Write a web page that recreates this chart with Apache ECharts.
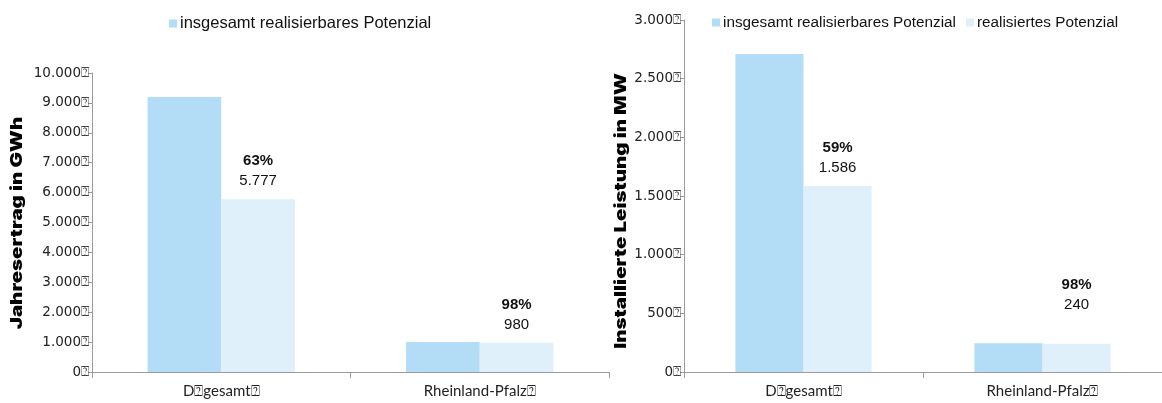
<!DOCTYPE html>
<html>
<head>
<meta charset="utf-8">
<script src="https://cdn.jsdelivr.net/npm/echarts@6/dist/echarts.min.js"></script>
<style>
html,body{margin:0;padding:0;background:#fff;}
#chart{width:1162px;height:403px;}
</style>
</head>
<body>
<div id="chart"></div>
<script>
// Categories (with the placeholder glyphs as they appear in the labels)
const categories = ['D\u2370gesamt\u2370', 'Rheinland-Pfalz\u2370'];
const seriesNames = ['insgesamt realisierbares Potenzial', 'realisiertes Potenzial'];

// Jahresertrag in GWh
const energyTotal = [9200, 1000];
const energyRealized = [5777, 980];
const energyShare = ['63%', '98%'];
const energyTicks = ['0', '1.000', '2.000', '3.000', '4.000', '5.000',
  '6.000', '7.000', '8.000', '9.000', '10.000'];

// Installierte Leistung in MW
const powerTotal = [2710, 245];
const powerRealized = [1586, 240];
const powerShare = ['59%', '98%'];
const powerTicks = ['0', '500', '1.000', '1.500', '2.000', '2.500', '3.000'];

const colTotal = '#b3ddf7';
const colRealized = '#dff0fa';
const axisGray = '#9a9a9a';
const GLYPH = '\u2370';

function fmtDE(v) {
  return String(v).replace(/\B(?=(\d{3})+(?!\d))/g, '.');
}

function xAxisCfg(gridIndex) {
  return {
    type: 'category', gridIndex, data: categories,
    axisLine: {lineStyle: {color: axisGray, width: 1}},
    axisTick: {show: true, length: 6, lineStyle: {color: axisGray}},
    axisLabel: {color: '#222', fontFamily: 'Lato', fontSize: 15, margin: 12}
  };
}
function yAxisCfg(gridIndex, max, interval, ticks) {
  return {
    type: 'value', gridIndex, min: 0, max, interval,
    axisLine: {show: true, lineStyle: {color: axisGray}},
    axisTick: {show: true, length: 4, lineStyle: {color: axisGray}},
    splitLine: {show: false},
    axisLabel: {
      color: '#222', fontFamily: 'DejaVu Sans', fontSize: 13.5, margin: 3,
      formatter: v => ticks[Math.round(v / interval)] + '{g|' + GLYPH + '}',
      rich: {g: {fontFamily: 'DejaVu Sans', fontSize: 14, color: '#444'}}
    }
  };
}
function realizedData(values, shares, dist) {
  return values.map((v, i) => ({
    value: v,
    label: {distance: dist[i], formatter: '{p|' + shares[i] + '}\n{v|' + fmtDE(v) + '}'}
  }));
}
const labelRich = {
  p: {fontFamily: 'Liberation Sans', fontWeight: 'bold', fontSize: 15, color: '#111', lineHeight: 20},
  v: {fontFamily: 'Liberation Sans', fontSize: 15, color: '#111', lineHeight: 20}
};

const chart = echarts.init(document.getElementById('chart'), null, {renderer: 'canvas'});
chart.setOption({
  animation: false,
  grid: [
    {left: 92, top: 73, width: 517, bottom: 31},
    {left: 684, top: 20, width: 484, bottom: 31}
  ],
  legend: [
    {
      data: [seriesNames[0]], left: 164, top: 10, itemWidth: 8, itemHeight: 8, itemGap: 10,
      icon: 'rect', textStyle: {fontFamily: 'Liberation Sans', fontSize: 16.5, color: '#111', padding: [0, 0, 0, -2]}
    },
    {
      data: seriesNames, left: 707, top: 10, itemWidth: 8, itemHeight: 8, itemGap: 10,
      icon: 'rect', textStyle: {fontFamily: 'Liberation Sans', fontSize: 15.3, color: '#111', padding: [0, 0, 0, -2]}
    }
  ],
  xAxis: [xAxisCfg(0), xAxisCfg(1)],
  yAxis: [yAxisCfg(0, 10000, 1000, energyTicks), yAxisCfg(1, 3000, 500, powerTicks)],
  graphic: [
    {
      type: 'text', x: 17, y: 223, rotation: Math.PI / 2, scaleX: 1.28,
      style: {text: 'Jahresertrag in GWh', font: '900 16px Inter', fill: '#000', align: 'center', verticalAlign: 'middle'}
    },
    {
      type: 'text', x: 621, y: 211, rotation: Math.PI / 2, scaleX: 1.28,
      style: {text: 'Installierte Leistung in MW', font: '900 16px Inter', fill: '#000', align: 'center', verticalAlign: 'middle'}
    }
  ],
  series: [
    {
      name: seriesNames[0], type: 'bar', xAxisIndex: 0, yAxisIndex: 0, data: energyTotal,
      itemStyle: {color: colTotal}, barGap: '0%', barCategoryGap: '43%'
    },
    {
      name: seriesNames[1], type: 'bar', xAxisIndex: 0, yAxisIndex: 0,
      data: realizedData(energyRealized, energyShare, [8, 8]),
      itemStyle: {color: colRealized},
      label: {show: true, position: 'top', align: 'center', rich: labelRich}
    },
    {
      name: seriesNames[0], type: 'bar', xAxisIndex: 1, yAxisIndex: 1, data: powerTotal,
      itemStyle: {color: colTotal}, barGap: '0%', barCategoryGap: '43%'
    },
    {
      name: seriesNames[1], type: 'bar', xAxisIndex: 1, yAxisIndex: 1,
      data: realizedData(powerRealized, powerShare, [8, 29]),
      itemStyle: {color: colRealized},
      label: {show: true, position: 'top', align: 'center', rich: labelRich}
    }
  ]
});
</script>
</body>
</html>
